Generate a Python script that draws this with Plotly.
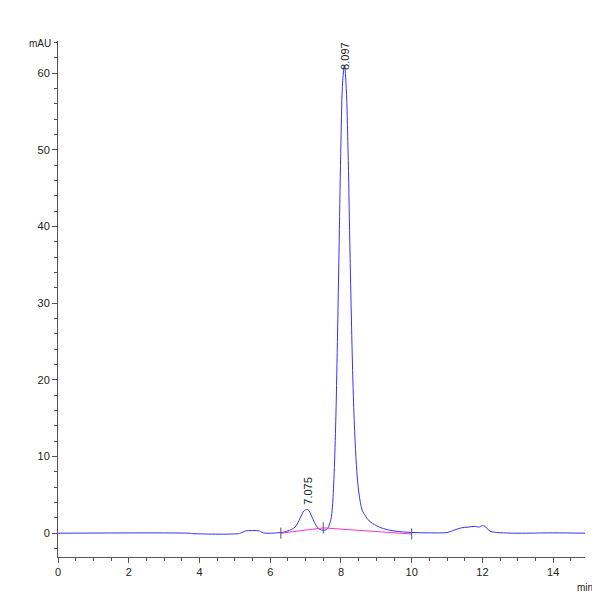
import plotly.graph_objects as go

# chromatogram trace (min, mAU)
time_min = [0, 3.7, 3.8, 5.1, 5.2, 5.3, 5.5, 5.7, 5.8, 6.3, 6.5, 6.7, 6.85, 6.95, 7.05, 7.1,
            7.2, 7.3, 7.4, 7.5, 7.6, 7.7, 7.75, 7.8, 7.85, 7.9, 7.95, 8.0, 8.05, 8.1, 8.15,
            8.2, 8.25, 8.3, 8.35, 8.4, 8.45, 8.5, 8.55, 8.6, 8.7, 8.8, 9.0, 9.2, 9.5, 10.0,
            10.5, 11.0, 11.2, 11.4, 11.6, 11.8, 11.9, 12.0, 12.1, 12.2, 12.4, 12.6, 13.0, 14.0, 14.9]
signal = [0, 0, -0.05, -0.05, 0.1, 0.3, 0.35, 0.3, 0.05, 0.1, 0.3, 0.8, 2.0, 2.9, 3.1, 2.9,
          1.9, 1.0, 0.5, 0.4, 0.5, 1.5, 3, 7, 14, 25, 38, 51, 59, 61, 58,
          50, 38, 27, 18, 12, 8, 5.5, 4, 3, 2.2, 1.6, 1.0, 0.6, 0.3, 0.1,
          0.05, 0.1, 0.4, 0.7, 0.8, 0.9, 0.8, 1.0, 0.8, 0.3, 0.1, 0.05, 0, 0.05, 0]

# integration baseline
base_t = [6.3, 7.5, 10.0]
base_y = [0.0, 0.7, -0.1]

peak_t = [7.075, 8.097]
peak_y = [3.1, 61]
peak_labels = ["7.075", "8.097"]
label_shift = [3, -6]

fig = go.Figure()
fig.add_trace(go.Scatter(x=time_min, y=signal, mode="lines", line=dict(color="#3333ff", width=1),
                         line_shape="spline"))
fig.add_trace(go.Scatter(x=base_t, y=base_y, mode="lines+markers",
                         line=dict(color="#ff33cc", width=1),
                         marker=dict(symbol="line-ns-open", size=8, color="#555", line=dict(width=1))))

for t, y, lab, sh in zip(peak_t, peak_y, peak_labels, label_shift):
    fig.add_annotation(x=t, y=y, text=lab, textangle=-90, showarrow=False,
                       yanchor="bottom", yshift=sh, font=dict(size=11, color="#222"))

fig.add_annotation(xref="paper", yref="paper", x=-0.01, y=0.995, text="mAU", showarrow=False,
                   xanchor="right", yanchor="middle", font=dict(size=10, color="#222"))
fig.add_annotation(xref="paper", yref="paper", x=1.0, y=-0.045, text="min", showarrow=False,
                   xanchor="center", yanchor="top", font=dict(size=10, color="#222"))

fig.update_layout(
    width=600, height=600, showlegend=False,
    plot_bgcolor="white", paper_bgcolor="white",
    margin=dict(l=50, r=23, t=33, b=51, autoexpand=False),
    font=dict(family="Liberation Sans Narrow, Arial", size=11, color="#222"),
    xaxis=dict(range=[0, 14.9], tickvals=[0, 2, 4, 6, 8, 10, 12, 14], showgrid=False, zeroline=False,
               automargin=False,
               showline=True, linecolor="#555", ticks="outside", ticklen=5, tickcolor="#555",
               minor=dict(dtick=0.5, ticks="outside", ticklen=3, tickcolor="#555")),
    yaxis=dict(range=[-3.1, 64.2], tickvals=[0, 10, 20, 30, 40, 50, 60], showgrid=False, zeroline=False,
               automargin=False,
               showline=True, linecolor="#555", ticks="outside", ticklen=5, tickcolor="#555",
               minor=dict(dtick=2, ticks="outside", ticklen=3, tickcolor="#555")),
)

fig.write_html("out.html")
